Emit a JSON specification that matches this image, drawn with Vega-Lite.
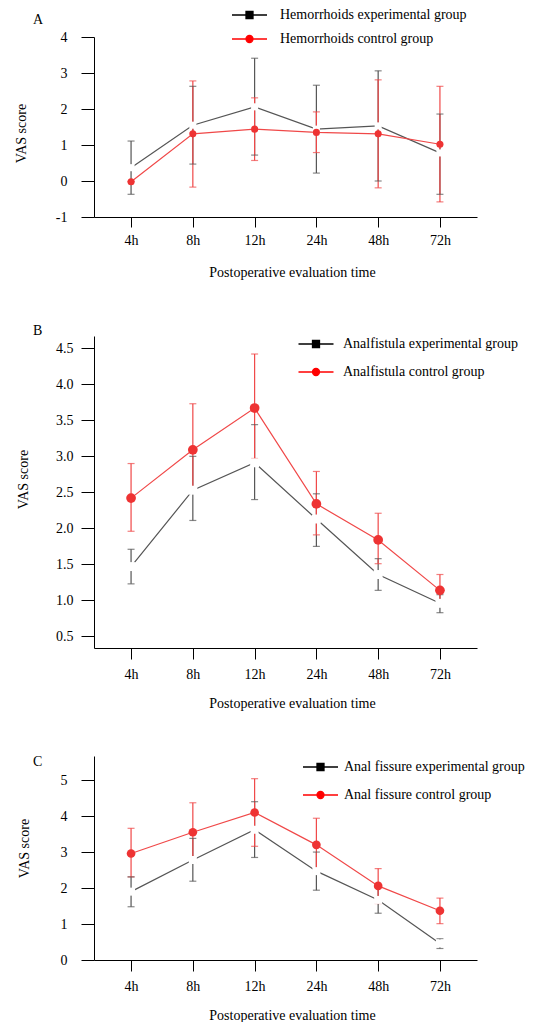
{
  "$schema": "https://vega.github.io/schema/vega-lite/v6.json",
  "padding": {"left": 14, "top": 8, "right": 0, "bottom": 0},
  "background": "white",
  "bounds": "flush",
  "spacing": 119,
  "datasets": {
    "vas": [
      {"panel": "A", "time": "4h", "group": "Hemorrhoids experimental group", "mean": 0.37, "lo": -0.37, "hi": 1.11},
      {"panel": "A", "time": "8h", "group": "Hemorrhoids experimental group", "mean": 1.55, "lo": 0.47, "hi": 2.63},
      {"panel": "A", "time": "12h", "group": "Hemorrhoids experimental group", "mean": 2.06, "lo": 0.72, "hi": 3.41},
      {"panel": "A", "time": "24h", "group": "Hemorrhoids experimental group", "mean": 1.44, "lo": 0.22, "hi": 2.66},
      {"panel": "A", "time": "48h", "group": "Hemorrhoids experimental group", "mean": 1.53, "lo": 0.0, "hi": 3.06},
      {"panel": "A", "time": "72h", "group": "Hemorrhoids experimental group", "mean": 0.78, "lo": -0.37, "hi": 1.86},
      {"panel": "A", "time": "4h", "group": "Hemorrhoids control group", "mean": -0.02, "lo": -0.02, "hi": -0.02},
      {"panel": "A", "time": "8h", "group": "Hemorrhoids control group", "mean": 1.31, "lo": -0.17, "hi": 2.78},
      {"panel": "A", "time": "12h", "group": "Hemorrhoids control group", "mean": 1.44, "lo": 0.57, "hi": 2.31},
      {"panel": "A", "time": "24h", "group": "Hemorrhoids control group", "mean": 1.35, "lo": 0.79, "hi": 1.92},
      {"panel": "A", "time": "48h", "group": "Hemorrhoids control group", "mean": 1.31, "lo": -0.19, "hi": 2.81},
      {"panel": "A", "time": "72h", "group": "Hemorrhoids control group", "mean": 1.02, "lo": -0.58, "hi": 2.63},
      {"panel": "B", "time": "4h", "group": "Analfistula experimental group", "mean": 1.47, "lo": 1.23, "hi": 1.71},
      {"panel": "B", "time": "8h", "group": "Analfistula experimental group", "mean": 2.53, "lo": 2.11, "hi": 3.0},
      {"panel": "B", "time": "12h", "group": "Analfistula experimental group", "mean": 2.91, "lo": 2.4, "hi": 3.44},
      {"panel": "B", "time": "24h", "group": "Analfistula experimental group", "mean": 2.13, "lo": 1.75, "hi": 2.48},
      {"panel": "B", "time": "48h", "group": "Analfistula experimental group", "mean": 1.36, "lo": 1.14, "hi": 1.58},
      {"panel": "B", "time": "72h", "group": "Analfistula experimental group", "mean": 0.96, "lo": 0.83, "hi": 1.08},
      {"panel": "B", "time": "4h", "group": "Analfistula control group", "mean": 2.42, "lo": 1.96, "hi": 2.9},
      {"panel": "B", "time": "8h", "group": "Analfistula control group", "mean": 3.09, "lo": 2.5, "hi": 3.73},
      {"panel": "B", "time": "12h", "group": "Analfistula control group", "mean": 3.67, "lo": 2.97, "hi": 4.42},
      {"panel": "B", "time": "24h", "group": "Analfistula control group", "mean": 2.34, "lo": 1.91, "hi": 2.79},
      {"panel": "B", "time": "48h", "group": "Analfistula control group", "mean": 1.84, "lo": 1.51, "hi": 2.21},
      {"panel": "B", "time": "72h", "group": "Analfistula control group", "mean": 1.14, "lo": 0.95, "hi": 1.36},
      {"panel": "C", "time": "4h", "group": "Anal fissure experimental group", "mean": 1.9, "lo": 1.48, "hi": 2.31},
      {"panel": "C", "time": "8h", "group": "Anal fissure experimental group", "mean": 2.78, "lo": 2.19, "hi": 3.38},
      {"panel": "C", "time": "12h", "group": "Anal fissure experimental group", "mean": 3.62, "lo": 2.85, "hi": 4.4},
      {"panel": "C", "time": "24h", "group": "Anal fissure experimental group", "mean": 2.47, "lo": 1.94, "hi": 3.0},
      {"panel": "C", "time": "48h", "group": "Anal fissure experimental group", "mean": 1.67, "lo": 1.3, "hi": 2.04},
      {"panel": "C", "time": "72h", "group": "Anal fissure experimental group", "mean": 0.46, "lo": 0.32, "hi": 0.59},
      {"panel": "C", "time": "4h", "group": "Anal fissure control group", "mean": 2.96, "lo": 2.31, "hi": 3.66},
      {"panel": "C", "time": "8h", "group": "Anal fissure control group", "mean": 3.55, "lo": 2.7, "hi": 4.37},
      {"panel": "C", "time": "12h", "group": "Anal fissure control group", "mean": 4.1, "lo": 3.16, "hi": 5.04},
      {"panel": "C", "time": "24h", "group": "Anal fissure control group", "mean": 3.2, "lo": 2.45, "hi": 3.94},
      {"panel": "C", "time": "48h", "group": "Anal fissure control group", "mean": 2.06, "lo": 1.57, "hi": 2.54},
      {"panel": "C", "time": "72h", "group": "Anal fissure control group", "mean": 1.37, "lo": 1.01, "hi": 1.72}
    ]
  },
  "config": {
    "view": {"stroke": null},
    "font": "Liberation Serif",
    "axis": {
      "grid": false, "labelOverlap": false, "tickCount": 20,
      "labelFont": "Liberation Serif", "labelFontSize": 14, "labelColor": "#000000",
      "titleFont": "Liberation Serif", "titleFontSize": 14, "titleFontWeight": "normal", "titleColor": "#000000",
      "domainColor": "#000000", "tickColor": "#000000", "domainWidth": 1, "tickWidth": 1
    },
    "legend": {"labelFont": "Liberation Serif", "labelFontSize": 14, "labelColor": "#000000"},
    "title": {"font": "Liberation Serif", "fontSize": 14, "fontWeight": "normal", "color": "#000000"}
  },
  "resolve": {
    "scale": {"x": "independent", "y": "independent", "color": "independent", "fill": "independent", "stroke": "independent", "shape": "independent"},
    "legend": {"color": "independent", "fill": "independent", "stroke": "independent", "shape": "independent"}
  },
  "vconcat": [
    {
      "width": 383, "height": 180,
      "title": {"text": "A", "anchor": "start", "frame": "group", "dx": -61, "dy": 30, "offset": 0, "baseline": "alphabetic"},
      "data": {"name": "vas"},
      "transform": [{"filter": "datum.panel === 'A'"}],
      "encoding": {
        "x": {"field": "time", "type": "ordinal", "scale": {"type": "point", "padding": 0.6, "domain": ["4h", "8h", "12h", "24h", "48h", "72h"]},
          "axis": {"title": "Postoperative evaluation time", "labelAngle": 0, "tickSize": 10, "labelPadding": 6, "titlePadding": 18, "titleX": 198}}
      },
      "layer": [
        {"mark": {"type": "rule", "strokeWidth": 1.2},
         "encoding": {
           "y": {"field": "lo", "type": "quantitative", "title": "VAS score", "scale": {"domain": [-1, 4], "nice": false, "zero": false},
             "axis": {"values": [-1, 0, 1, 2, 3, 4], "tickCount": 20, "tickSize": 13, "labelPadding": 14, "titlePadding": 27, "titleY": 96, "labelExpr": "'' + datum.value"}},
           "y2": {"field": "hi"},
           "color": {"field": "group", "type": "nominal", "scale": {"domain": ["Hemorrhoids control group", "Hemorrhoids experimental group"], "range": ["#f04848", "#555555"]}, "legend": null}}},
        {"mark": {"type": "line", "strokeWidth": 1.2},
         "encoding": {"y": {"field": "mean", "type": "quantitative", "title": "VAS score"}, "color": {"field": "group", "type": "nominal", "legend": null}}},
        {"mark": {"type": "tick", "size": 7, "thickness": 1.2},
         "encoding": {"y": {"field": "lo", "type": "quantitative", "title": "VAS score"}, "color": {"field": "group", "type": "nominal", "legend": null}}},
        {"mark": {"type": "tick", "size": 7, "thickness": 1.2},
         "encoding": {"y": {"field": "hi", "type": "quantitative", "title": "VAS score"}, "color": {"field": "group", "type": "nominal", "legend": null}}},
        {"transform": [{"filter": "indexof(datum.group, 'experimental') >= 0"}],
         "mark": {"type": "point", "shape": "square", "filled": true, "size": 50, "fill": "#ffffff", "strokeWidth": 0, "opacity": 1},
         "encoding": {"y": {"field": "mean", "type": "quantitative", "title": "VAS score"}}},
        {"transform": [{"filter": "indexof(datum.group, 'experimental') < 0"}],
         "mark": {"type": "point", "shape": "circle", "filled": true, "size": 50, "fill": "#ee3333", "strokeWidth": 0, "opacity": 1},
         "encoding": {"y": {"field": "mean", "type": "quantitative", "title": "VAS score"}}},
        {"mark": {"type": "point", "filled": true, "size": 100, "opacity": 0},
         "encoding": {
           "y": {"field": "mean", "type": "quantitative", "title": "VAS score"},
           "fill": {"field": "group", "type": "nominal", "scale": {"domain": ["Hemorrhoids experimental group", "Hemorrhoids control group"], "range": ["#000000", "#ff0000"]},
             "legend": {"title": null, "orient": "none", "legendX": 148.5, "legendY": -29, "direction": "vertical", "padding": 0, "symbolSize": 100, "symbolOpacity": 1, "symbolStrokeWidth": 1.3, "labelOffset": 23.5, "rowPadding": 10, "labelLimit": 400}},
           "stroke": {"field": "group", "type": "nominal", "scale": {"domain": ["Hemorrhoids experimental group", "Hemorrhoids control group"], "range": ["#000000", "#ff0000"]},
             "legend": {"title": null, "orient": "none", "legendX": 148.5, "legendY": -29, "direction": "vertical", "padding": 0, "symbolSize": 100, "symbolOpacity": 1, "symbolStrokeWidth": 1.3, "labelOffset": 23.5, "rowPadding": 10, "labelLimit": 400}},
           "shape": {"field": "group", "type": "nominal", "scale": {"domain": ["Hemorrhoids experimental group", "Hemorrhoids control group"], "range": ["M-3.5,0H3.5M-0.7,-0.7H0.7V0.7H-0.7Z", "M-3.5,0H3.5M-0.7,0A0.7,0.7,0,1,1,0.7,0A0.7,0.7,0,1,1,-0.7,0Z"]},
             "legend": {"title": null, "orient": "none", "legendX": 148.5, "legendY": -29, "direction": "vertical", "padding": 0, "symbolSize": 100, "symbolOpacity": 1, "symbolStrokeWidth": 1.3, "labelOffset": 23.5, "rowPadding": 10, "labelLimit": 400}}
         }}
      ]
    },
    {
      "bounds": "flush",
      "spacing": 108,
      "resolve": {
        "scale": {"x": "independent", "y": "independent", "color": "independent", "fill": "independent", "stroke": "independent", "shape": "independent"},
        "legend": {"color": "independent", "fill": "independent", "stroke": "independent", "shape": "independent"}
      },
      "vconcat": [
        {
          "width": 383, "height": 312,
          "title": {"text": "B", "anchor": "start", "frame": "group", "dx": -61, "dy": 13, "offset": 0, "baseline": "alphabetic"},
          "data": {"name": "vas"},
          "transform": [{"filter": "datum.panel === 'B'"}],
          "encoding": {
            "x": {"field": "time", "type": "ordinal", "scale": {"type": "point", "padding": 0.6, "domain": ["4h", "8h", "12h", "24h", "48h", "72h"]},
              "axis": {"title": "Postoperative evaluation time", "labelAngle": 0, "tickSize": 11, "labelPadding": 8, "titlePadding": 15, "titleX": 198}}
          },
          "layer": [
            {"mark": {"type": "rule", "strokeWidth": 1.2},
             "encoding": {
               "y": {"field": "lo", "type": "quantitative", "title": "VAS score", "scale": {"domain": [0.34, 4.67], "nice": false, "zero": false},
                 "axis": {"values": [0.5, 1, 1.5, 2, 2.5, 3, 3.5, 4, 4.5], "tickCount": 20, "format": ".1f", "tickSize": 13, "labelPadding": 8, "titlePadding": 25, "titleY": 143}},
               "y2": {"field": "hi"},
               "color": {"field": "group", "type": "nominal", "scale": {"domain": ["Analfistula control group", "Analfistula experimental group"], "range": ["#f04848", "#555555"]}, "legend": null}}},
            {"mark": {"type": "line", "strokeWidth": 1.2},
             "encoding": {"y": {"field": "mean", "type": "quantitative", "title": "VAS score"}, "color": {"field": "group", "type": "nominal", "legend": null}}},
            {"mark": {"type": "tick", "size": 7, "thickness": 1.2},
             "encoding": {"y": {"field": "lo", "type": "quantitative", "title": "VAS score"}, "color": {"field": "group", "type": "nominal", "legend": null}}},
            {"mark": {"type": "tick", "size": 7, "thickness": 1.2},
             "encoding": {"y": {"field": "hi", "type": "quantitative", "title": "VAS score"}, "color": {"field": "group", "type": "nominal", "legend": null}}},
            {"transform": [{"filter": "indexof(datum.group, 'experimental') >= 0"}],
             "mark": {"type": "point", "shape": "square", "filled": true, "size": 80, "fill": "#ffffff", "strokeWidth": 0, "opacity": 1},
             "encoding": {"y": {"field": "mean", "type": "quantitative", "title": "VAS score"}}},
            {"transform": [{"filter": "indexof(datum.group, 'experimental') < 0"}],
             "mark": {"type": "point", "shape": "circle", "filled": true, "size": 95, "fill": "#ee3333", "strokeWidth": 0, "opacity": 1},
             "encoding": {"y": {"field": "mean", "type": "quantitative", "title": "VAS score"}}},
            {"mark": {"type": "point", "filled": true, "size": 100, "opacity": 0},
             "encoding": {
               "y": {"field": "mean", "type": "quantitative", "title": "VAS score"},
               "fill": {"field": "group", "type": "nominal", "scale": {"domain": ["Analfistula experimental group", "Analfistula control group"], "range": ["#000000", "#ff0000"]},
                 "legend": {"title": null, "orient": "none", "legendX": 215, "legendY": 1, "direction": "vertical", "padding": 0, "symbolSize": 100, "symbolOpacity": 1, "symbolStrokeWidth": 1.3, "labelOffset": 20, "rowPadding": 14, "labelLimit": 400}},
               "stroke": {"field": "group", "type": "nominal", "scale": {"domain": ["Analfistula experimental group", "Analfistula control group"], "range": ["#000000", "#ff0000"]},
                 "legend": {"title": null, "orient": "none", "legendX": 215, "legendY": 1, "direction": "vertical", "padding": 0, "symbolSize": 100, "symbolOpacity": 1, "symbolStrokeWidth": 1.3, "labelOffset": 20, "rowPadding": 14, "labelLimit": 400}},
               "shape": {"field": "group", "type": "nominal", "scale": {"domain": ["Analfistula experimental group", "Analfistula control group"], "range": ["M-3.5,0H3.5M-0.7,-0.7H0.7V0.7H-0.7Z", "M-3.5,0H3.5M-0.7,0A0.7,0.7,0,1,1,0.7,0A0.7,0.7,0,1,1,-0.7,0Z"]},
                 "legend": {"title": null, "orient": "none", "legendX": 215, "legendY": 1, "direction": "vertical", "padding": 0, "symbolSize": 100, "symbolOpacity": 1, "symbolStrokeWidth": 1.3, "labelOffset": 20, "rowPadding": 14, "labelLimit": 400}}
             }}
          ]
        },
        {
          "width": 383, "height": 204,
          "title": {"text": "C", "anchor": "start", "frame": "group", "dx": -61, "dy": 24, "offset": 0, "baseline": "alphabetic"},
          "data": {"name": "vas"},
          "transform": [{"filter": "datum.panel === 'C'"}],
          "encoding": {
            "x": {"field": "time", "type": "ordinal", "scale": {"type": "point", "padding": 0.6, "domain": ["4h", "8h", "12h", "24h", "48h", "72h"]},
              "axis": {"title": "Postoperative evaluation time", "labelAngle": 0, "tickSize": 11, "labelPadding": 8, "titlePadding": 15, "titleX": 198}}
          },
          "layer": [
            {"mark": {"type": "rule", "strokeWidth": 1.2},
             "encoding": {
               "y": {"field": "lo", "type": "quantitative", "title": "VAS score", "scale": {"domain": [0, 5.67], "nice": false, "zero": false},
                 "axis": {"values": [0, 1, 2, 3, 4, 5], "tickCount": 20, "format": "d", "tickSize": 13, "labelPadding": 14, "titlePadding": 29, "titleY": 92}},
               "y2": {"field": "hi"},
               "color": {"field": "group", "type": "nominal", "scale": {"domain": ["Anal fissure control group", "Anal fissure experimental group"], "range": ["#f04848", "#555555"]}, "legend": null}}},
            {"mark": {"type": "line", "strokeWidth": 1.2},
             "encoding": {"y": {"field": "mean", "type": "quantitative", "title": "VAS score"}, "color": {"field": "group", "type": "nominal", "legend": null}}},
            {"mark": {"type": "tick", "size": 7, "thickness": 1.2},
             "encoding": {"y": {"field": "lo", "type": "quantitative", "title": "VAS score"}, "color": {"field": "group", "type": "nominal", "legend": null}}},
            {"mark": {"type": "tick", "size": 7, "thickness": 1.2},
             "encoding": {"y": {"field": "hi", "type": "quantitative", "title": "VAS score"}, "color": {"field": "group", "type": "nominal", "legend": null}}},
            {"transform": [{"filter": "indexof(datum.group, 'experimental') >= 0"}],
             "mark": {"type": "point", "shape": "square", "filled": true, "size": 64, "fill": "#ffffff", "strokeWidth": 0, "opacity": 1},
             "encoding": {"y": {"field": "mean", "type": "quantitative", "title": "VAS score"}}},
            {"transform": [{"filter": "indexof(datum.group, 'experimental') < 0"}],
             "mark": {"type": "point", "shape": "circle", "filled": true, "size": 75, "fill": "#ee3333", "strokeWidth": 0, "opacity": 1},
             "encoding": {"y": {"field": "mean", "type": "quantitative", "title": "VAS score"}}},
            {"mark": {"type": "point", "filled": true, "size": 100, "opacity": 0},
             "encoding": {
               "y": {"field": "mean", "type": "quantitative", "title": "VAS score"},
               "fill": {"field": "group", "type": "nominal", "scale": {"domain": ["Anal fissure experimental group", "Anal fissure control group"], "range": ["#000000", "#ff0000"]},
                 "legend": {"title": null, "orient": "none", "legendX": 219.5, "legendY": 4, "direction": "vertical", "padding": 0, "symbolSize": 100, "symbolOpacity": 1, "symbolStrokeWidth": 1.3, "labelOffset": 16.5, "rowPadding": 14, "labelLimit": 400}},
               "stroke": {"field": "group", "type": "nominal", "scale": {"domain": ["Anal fissure experimental group", "Anal fissure control group"], "range": ["#000000", "#ff0000"]},
                 "legend": {"title": null, "orient": "none", "legendX": 219.5, "legendY": 4, "direction": "vertical", "padding": 0, "symbolSize": 100, "symbolOpacity": 1, "symbolStrokeWidth": 1.3, "labelOffset": 16.5, "rowPadding": 14, "labelLimit": 400}},
               "shape": {"field": "group", "type": "nominal", "scale": {"domain": ["Anal fissure experimental group", "Anal fissure control group"], "range": ["M-3.5,0H3.5M-0.7,-0.7H0.7V0.7H-0.7Z", "M-3.5,0H3.5M-0.7,0A0.7,0.7,0,1,1,0.7,0A0.7,0.7,0,1,1,-0.7,0Z"]},
                 "legend": {"title": null, "orient": "none", "legendX": 219.5, "legendY": 4, "direction": "vertical", "padding": 0, "symbolSize": 100, "symbolOpacity": 1, "symbolStrokeWidth": 1.3, "labelOffset": 16.5, "rowPadding": 14, "labelLimit": 400}}
             }}
          ]
        }
      ]
    }
  ]
}
